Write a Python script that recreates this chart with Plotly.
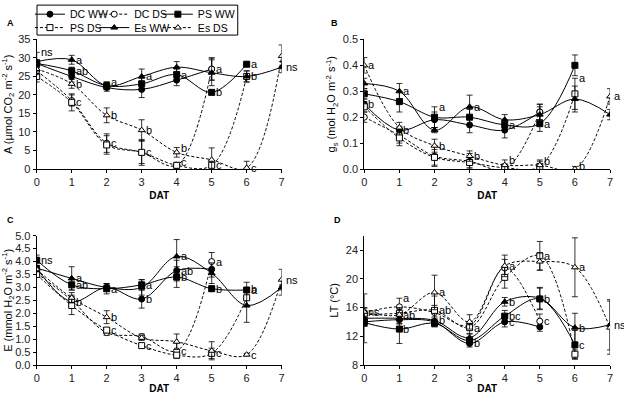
import plotly.graph_objects as go

FONT = "Liberation Sans Narrow, Arial Narrow, Liberation Sans, Arial"

series = ["DC WW", "DC DS", "PS WW", "PS DS", "Es WW", "Es DS"]
days = [0, 1, 2, 3, 4, 5, 6, 7]

# ---------- Panel A: net photosynthesis (µmol CO2 m-2 s-1) ----------
A_DC_WW = [28.5, 25.0, 22.0, 21.5, 24.0, 27.0]
A_DC_DS = [26.5, 18.5, 7.0, 4.5, 1.0, 27.0]
A_PS_WW = [28.5, 26.5, 22.5, 23.0, 25.5, 20.7, 28.3]
A_PS_DS = [25.0, 18.0, 6.5, 4.5, 1.0, 1.0, 25.0]
A_Es_WW = [29.0, 29.5, 22.5, 25.0, 27.5, 26.0, 25.0, 27.5]
A_Es_DS = [27.0, 23.0, 14.5, 10.5, 4.5, 2.5, 0.3, 30.5]
A_DC_WW_err = [1.0, 1.5, 1.0, 2.2, 1.5, 3.0]
A_DC_DS_err = [1.0, 1.5, 2.5, 3.5, 0.8, 3.0]
A_PS_WW_err = [1.0, 1.0, 1.0, 1.5, 1.5, 0.5, 0.5]
A_PS_DS_err = [1.5, 2.3, 2.5, 3.0, 0.5, 0.5, 1.5]
A_Es_WW_err = [2.5, 1.2, 1.0, 2.0, 1.5, 3.5, 1.5, 1.5]
A_Es_DS_err = [1.5, 1.2, 2.0, 2.8, 1.3, 3.2, 1.8, 3.0]

# ---------- Panel B: stomatal conductance (mol H2O m-2 s-1) ----------
B_DC_WW = [0.25, 0.15, 0.19, 0.17, 0.15, 0.22]
B_DC_DS = [0.20, 0.13, 0.05, 0.03, 0.00, 0.22]
B_PS_WW = [0.29, 0.26, 0.20, 0.20, 0.17, 0.175, 0.40]
B_PS_DS = [0.24, 0.12, 0.045, 0.025, 0.005, 0.01, 0.29]
B_Es_WW = [0.33, 0.30, 0.15, 0.24, 0.19, 0.21, 0.27, 0.21]
B_Es_DS = [0.40, 0.16, 0.09, 0.05, 0.015, 0.015, 0.0, 0.28]
B_DC_WW_err = [0.02, 0.015, 0.03, 0.03, 0.03, 0.03]
B_DC_DS_err = [0.02, 0.03, 0.04, 0.03, 0.02, 0.03]
B_PS_WW_err = [0.02, 0.04, 0.04, 0.03, 0.02, 0.03, 0.04]
B_PS_DS_err = [0.02, 0.03, 0.03, 0.02, 0.01, 0.02, 0.06]
B_Es_WW_err = [0.02, 0.03, 0.01, 0.045, 0.02, 0.03, 0.05, 0.02]
B_Es_DS_err = [0.03, 0.02, 0.025, 0.02, 0.02, 0.02, 0.01, 0.03]

# ---------- Panel C: transpiration (mmol H2O m-2 s-1) ----------
C_DC_WW = [3.75, 2.45, 3.0, 2.55, 3.65, 3.7]
C_DC_DS = [3.55, 2.5, 1.25, 1.1, 0.55, 4.0]
C_PS_WW = [4.05, 3.1, 2.95, 3.1, 3.4, 2.95, 2.9]
C_PS_DS = [3.5, 2.3, 1.35, 0.75, 0.38, 0.45, 2.6]
C_Es_WW = [3.75, 3.35, 3.0, 3.0, 4.2, 3.55, 2.3, 3.0]
C_Es_DS = [3.7, 2.6, 1.85, 1.05, 0.9, 0.55, 0.4, 3.3]
C_DC_WW_err = [0.1, 0.15, 0.15, 0.35, 0.4, 0.3]
C_DC_DS_err = [0.1, 0.2, 0.1, 0.1, 0.3, 0.35]
C_PS_WW_err = [0.2, 0.2, 0.2, 0.2, 0.4, 0.1, 0.3]
C_PS_DS_err = [0.1, 0.35, 0.1, 0.05, 0.05, 0.2, 0.3]
C_Es_WW_err = [0.1, 0.45, 0.1, 0.3, 0.65, 0.4, 0.65, 0.3]
C_Es_DS_err = [0.1, 0.2, 0.25, 0.1, 0.3, 0.35, 0.05, 0.4]

# ---------- Panel D: leaf temperature (°C) ----------
D_DC_WW = [14.0, 14.3, 14.0, 11.0, 14.0, 13.3]
D_DC_DS = [15.3, 16.1, 15.3, 13.5, 21.5, 14.1]
D_PS_WW = [13.9, 13.0, 13.8, 11.4, 14.8, 17.2, 10.8]
D_PS_DS = [15.0, 15.2, 15.6, 13.2, 20.2, 23.2, 9.5]
D_Es_WW = [14.5, 14.5, 14.2, 11.8, 16.8, 17.3, 13.2, 13.6]
D_Es_DS = [15.4, 15.0, 18.1, 14.0, 21.8, 22.4, 21.6, 13.2]
D_DC_WW_err = [0.6, 0.5, 0.5, 0.5, 0.7, 0.6]
D_DC_DS_err = [0.6, 1.2, 1.0, 0.5, 1.2, 1.0]
D_PS_WW_err = [0.5, 2.0, 0.5, 0.5, 0.8, 1.5, 2.0]
D_PS_DS_err = [0.6, 0.8, 2.0, 0.8, 1.5, 2.0, 0.6]
D_Es_WW_err = [3.4, 0.8, 0.5, 0.5, 0.6, 1.5, 2.0, 3.5]
D_Es_DS_err = [0.6, 0.8, 2.4, 1.0, 1.5, 1.2, 4.1, 3.7]

# significance letters: (series, day, text, at top of error bar?)
A_letters = [("Es WW", 0, "ns", True), ("Es WW", 1, "a", False), ("PS WW", 1, "ab", False),
             ("Es DS", 1, "b", False), ("PS DS", 1, "c", False), ("PS WW", 2, "a", True),
             ("Es DS", 2, "b", False), ("DC DS", 2, "c", False), ("Es WW", 3, "a", False),
             ("Es DS", 3, "b", False), ("DC DS", 3, "c", False), ("PS WW", 4, "a", False),
             ("Es DS", 4, "b", True), ("DC DS", 4, "c", True), ("DC DS", 5, "a", False),
             ("PS WW", 5, "b", False), ("PS DS", 5, "c", False), ("PS WW", 6, "a", False),
             ("PS DS", 6, "b", False), ("Es DS", 6, "c", False), ("Es WW", 7, "ns", False)]
B_letters = [("Es DS", 0, "a", False), ("DC WW", 0, "b", False), ("Es WW", 1, "a", False),
             ("DC WW", 1, "b", False), ("PS WW", 2, "a", True), ("Es DS", 2, "b", False),
             ("Es WW", 3, "a", False), ("Es DS", 3, "b", False), ("PS WW", 4, "a", False),
             ("Es DS", 4, "b", True), ("PS WW", 5, "a", False), ("PS DS", 5, "b", True),
             ("PS DS", 6, "a", True), ("Es DS", 6, "b", True), ("Es DS", 7, "a", False)]
C_letters = [("PS WW", 0, "ns", False), ("Es WW", 1, "a", False), ("PS WW", 1, "ab", False),
             ("DC WW", 1, "b", False), ("PS WW", 2, "a", False), ("Es DS", 2, "b", False),
             ("PS DS", 2, "c", False), ("PS WW", 3, "a", False), ("DC WW", 3, "b", False),
             ("PS DS", 3, "c", False), ("Es WW", 4, "a", False), ("DC WW", 4, "ab", False),
             ("PS WW", 4, "b", False), ("DC DS", 4, "c", False), ("DC DS", 5, "a", False),
             ("PS WW", 5, "b", False), ("PS DS", 5, "c", False), ("PS WW", 6, "a", False),
             ("Es WW", 6, "b", True), ("Es DS", 6, "c", False), ("Es DS", 7, "ns", False)]
D_letters = [("Es DS", 0, "ns", False), ("DC DS", 1, "a", True), ("Es DS", 1, "ab", False),
             ("PS WW", 1, "b", False), ("Es DS", 2, "a", False), ("PS DS", 2, "ab", False),
             ("Es WW", 2, "b", False), ("PS DS", 3, "a", False), ("DC WW", 3, "b", False),
             ("Es DS", 4, "a", False), ("Es WW", 4, "b", False), ("PS WW", 4, "bc", False),
             ("DC WW", 4, "c", False), ("PS DS", 5, "a", False), ("PS WW", 5, "b", False),
             ("DC DS", 5, "c", False), ("Es DS", 6, "a", False), ("Es WW", 6, "b", False),
             ("PS WW", 6, "c", False), ("Es WW", 7, "ns", False)]

panels = [
    dict(vals=[A_DC_WW, A_DC_DS, A_PS_WW, A_PS_DS, A_Es_WW, A_Es_DS],
         errs=[A_DC_WW_err, A_DC_DS_err, A_PS_WW_err, A_PS_DS_err, A_Es_WW_err, A_Es_DS_err],
         letters=A_letters),
    dict(vals=[B_DC_WW, B_DC_DS, B_PS_WW, B_PS_DS, B_Es_WW, B_Es_DS],
         errs=[B_DC_WW_err, B_DC_DS_err, B_PS_WW_err, B_PS_DS_err, B_Es_WW_err, B_Es_DS_err],
         letters=B_letters),
    dict(vals=[C_DC_WW, C_DC_DS, C_PS_WW, C_PS_DS, C_Es_WW, C_Es_DS],
         errs=[C_DC_WW_err, C_DC_DS_err, C_PS_WW_err, C_PS_DS_err, C_Es_WW_err, C_Es_DS_err],
         letters=C_letters),
    dict(vals=[D_DC_WW, D_DC_DS, D_PS_WW, D_PS_DS, D_Es_WW, D_Es_DS],
         errs=[D_DC_WW_err, D_DC_DS_err, D_PS_WW_err, D_PS_DS_err, D_Es_WW_err, D_Es_DS_err],
         letters=D_letters),
]

styles = {
    "DC WW": dict(dash="solid", symbol="circle", fill="black"),
    "DC DS": dict(dash="3px,2px", symbol="circle", fill="white"),
    "PS WW": dict(dash="solid", symbol="square", fill="black"),
    "PS DS": dict(dash="3px,2px", symbol="square", fill="white"),
    "Es WW": dict(dash="solid", symbol="triangle-up", fill="black"),
    "Es DS": dict(dash="3px,2px", symbol="triangle-up", fill="white"),
}

legend_ids = ["legend", "legend2", "legend3", "legend4", "legend5", "legend6"]

fig = go.Figure()
for p, panel in enumerate(panels):
    ax = "" if p == 0 else str(p + 1)
    for k, (name, v, e) in enumerate(zip(series, panel["vals"], panel["errs"])):
        st = styles[name]
        fig.add_trace(go.Scatter(
            x=days[:len(v)], y=v, name=name, mode="lines+markers",
            xaxis="x" + ax, yaxis="y" + ax, showlegend=(p == 0),
            legend=legend_ids[k],
            line=dict(color="black", width=1, dash=st["dash"], shape="spline", smoothing=1.0),
            marker=dict(symbol=st["symbol"], size=6, color=st["fill"],
                        line=dict(color="black", width=1)),
            error_y=dict(type="data", array=e, visible=True, color="black", thickness=0.8, width=3),
        ))
    for name, d, txt, top in panel["letters"]:
        i = series.index(name)
        yv = panel["vals"][i][d] + (panel["errs"][i][d] if top else 0)
        fig.add_annotation(x=d, y=yv, xref="x" + ax, yref="y" + ax, text=txt,
                           showarrow=False, xanchor="left", xshift=2,
                           font=dict(size=11, color="black", family=FONT))

xd_left = [0.0588, 0.4514]
xd_right = [0.5838, 0.9776]
yd_top = [0.571, 0.900]
yd_bot = [0.0736, 0.4018]

axis_common = dict(showline=True, linecolor="black", linewidth=1, ticks="outside",
                   ticklen=3, tickcolor="black", showgrid=False, zeroline=False,
                   automargin=False,
                   tickfont=dict(size=11, family=FONT, color="#222"))
xt = dict(text="<b>DAT</b>", font=dict(size=10, family=FONT, color="black"), standoff=4)

def ytitle(t):
    return dict(text=t, font=dict(size=11, family=FONT, color="black"), standoff=4)

leg_common = dict(orientation="h", xanchor="left", yanchor="middle", borderwidth=0,
                  bgcolor="rgba(0,0,0,0)", itemwidth=30,
                  font=dict(size=10.5, family=FONT, color="black"))
leg_x = [0.048, 0.151, 0.253]
leg_y = [0.964, 0.930]

layout = dict(
    width=624, height=394, margin=dict(l=0, r=0, t=0, b=0, autoexpand=False),
    paper_bgcolor="white", plot_bgcolor="white",
    font=dict(family=FONT, color="black"),
    xaxis=dict(domain=xd_left, anchor="y", range=[0, 7], dtick=1, title=xt, **axis_common),
    yaxis=dict(domain=yd_top, anchor="x", range=[0, 35], dtick=5,
               title=ytitle("A (µmol CO<sub>2</sub> m<sup>-2</sup> s<sup>-1</sup>)"), **axis_common),
    xaxis2=dict(domain=xd_right, anchor="y2", range=[0, 7], dtick=1, title=xt, **axis_common),
    yaxis2=dict(domain=yd_top, anchor="x2", range=[0, 0.5], dtick=0.1, tickformat=".1f",
                title=ytitle("g<sub>s</sub> (mol H<sub>2</sub>O m<sup>-2</sup> s<sup>-1</sup>)"),
                **axis_common),
    xaxis3=dict(domain=xd_left, anchor="y3", range=[0, 7], dtick=1, title=xt, **axis_common),
    yaxis3=dict(domain=yd_bot, anchor="x3", range=[0, 5], dtick=0.5, tickformat=".1f",
                title=ytitle("E (mmol H<sub>2</sub>O m<sup>-2</sup> s<sup>-1</sup>)"), **axis_common),
    xaxis4=dict(domain=xd_right, anchor="y4", range=[0, 7], dtick=1, title=xt, **axis_common),
    yaxis4=dict(domain=yd_bot, anchor="x4", range=[8, 26], tickvals=[8, 12, 16, 20, 24],
                title=ytitle("LT (°C)"), **axis_common),
    shapes=[dict(type="rect", xref="paper", yref="paper", x0=0.0593, x1=0.381,
                 y0=0.911, y1=0.987, line=dict(color="black", width=1), layer="below")],
)
for k, lid in enumerate(legend_ids):
    layout[lid] = dict(x=leg_x[k % 3], y=leg_y[k // 3], **leg_common)
fig.update_layout(**layout)

for txt, x, y in [("A", 0.008, 0.942), ("B", 0.528, 0.942), ("C", 0.008, 0.442), ("D", 0.532, 0.442)]:
    fig.add_annotation(x=x, y=y, xref="paper", yref="paper", text="<b>" + txt + "</b>",
                       showarrow=False, xanchor="left", yanchor="middle",
                       font=dict(size=9, family=FONT, color="black"))

fig.write_html("out.html", config={"displayModeBar": False},
               post_script="document.body.style.margin='0';")
